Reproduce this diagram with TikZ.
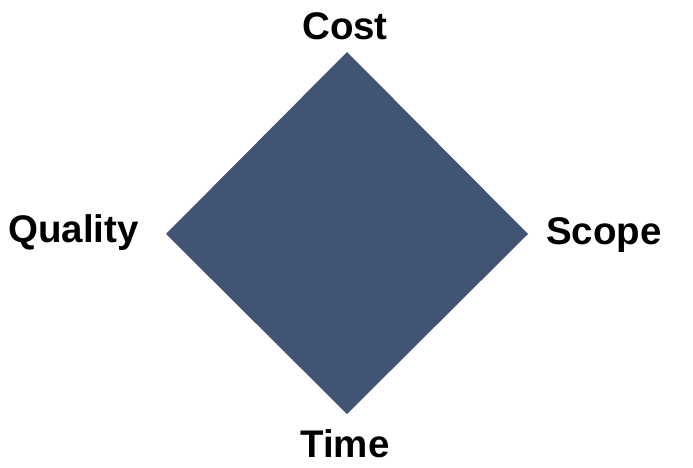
\documentclass[tikz,border=0pt]{standalone}
\usepackage{fontspec}
\setmainfont{Liberation Sans}
\definecolor{diamondfill}{RGB}{66,84,116}
\begin{document}
\begin{tikzpicture}[x=1pt,y=-1pt,
  lbl/.style={font=\fontsize{38.5}{42}\selectfont\bfseries, inner sep=0pt, text=black}]
\useasboundingbox (0,0) rectangle (693,468);
\coordinate (T) at (347,52);
\coordinate (R) at (528,234);
\coordinate (B) at (347,414);
\coordinate (L) at (166,234);
\fill[diamondfill] (T) -- (R) -- (B) -- (L) -- cycle;
\node[lbl, anchor=base] (cost) at (345,40) {Cost};
\node[lbl, anchor=base west] (quality) at (8,242) {Quality};
\node[lbl, anchor=base west] (scope) at (546,244) {Scope};
\node[lbl, anchor=base] (time) at (345,457) {Time};
\end{tikzpicture}
\end{document}
